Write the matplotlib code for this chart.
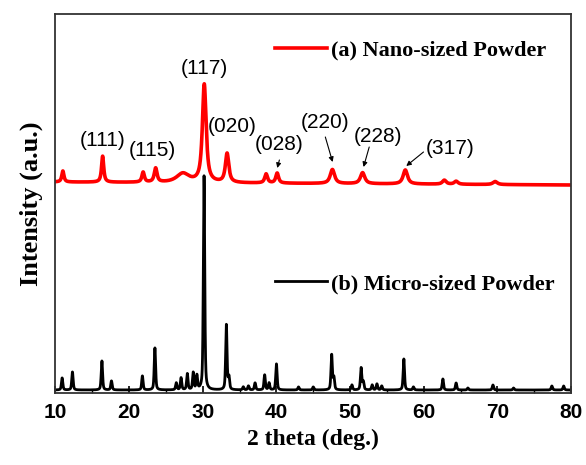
import numpy as np
import matplotlib
matplotlib.use("Agg")
import matplotlib.pyplot as plt

# ---------------- data ----------------
two_theta_range = [10, 80]

# Nano-sized powder: peak positions (deg), peak amplitudes (a.u.), FWHM (deg)
nano_pos   = [11.0, 16.4, 21.9, 23.6, 27.3, 30.2, 33.3, 38.6, 40.1, 47.6, 51.7, 57.5, 62.8, 64.4, 69.7]
nano_amp   = [11,   26,   10,   14,   9,    98,   29,   9,    10,   14,   11,   14,   4,    3,    3]
nano_fwhm  = [0.35, 0.35, 0.4,  0.45, 2.0,  0.6,  0.55, 0.45, 0.45, 0.7,  0.7,  0.7,  0.6,  0.6,  0.7]
nano_background = [211, 208]   # intensity at 10 deg and 80 deg

# Micro-sized powder
micro_pos  = [10.9, 12.3, 16.3, 17.6, 21.8, 23.5, 26.4, 27.05, 27.9, 28.7, 29.2, 30.17, 33.2, 33.55,
              35.5, 36.2, 37.1, 38.4, 39.0, 40.0, 43.0, 45.0, 47.5, 47.8, 50.25, 51.5, 51.8, 53.0,
              53.65, 54.3, 57.3, 58.6, 62.6, 64.4, 66.0, 69.4, 72.2, 77.4, 79.0]
micro_amp  = [12,   18,   29,   9,    14,   42,   7,    12,    16,   17,   14,   214,   65,   12,
              3,    4,    7,    15,   7,    26,   3,    3,    35,   12,   5,     22,   8,    5,
              6,    4,    31,   3,    11,   7,    2,    5,    2,    4,    4]
micro_fwhm = 0.22
micro_background = 3

peak_labels = ["(111)", "(115)", "(117)", "(020)", "(028)", "(220)", "(228)", "(317)"]
series_names = ["(a) Nano-sized Powder", "(b) Micro-sized Powder"]


def pseudo_voigt(x, pos, amp, fwhm, eta):
    g = np.exp(-4 * np.log(2) * ((x - pos) / fwhm) ** 2)
    l = 1.0 / (1 + 4 * ((x - pos) / fwhm) ** 2)
    return amp * (eta * l + (1 - eta) * g)


x = np.linspace(two_theta_range[0], two_theta_range[1], 7001)
frac = (x - two_theta_range[0]) / (two_theta_range[1] - two_theta_range[0])
y_nano = nano_background[0] + (nano_background[1] - nano_background[0]) * frac
for p, a, w in zip(nano_pos, nano_amp, nano_fwhm):
    y_nano = y_nano + pseudo_voigt(x, p, a, w, 0.85)
y_micro = np.full_like(x, micro_background, dtype=float)
for p, a in zip(micro_pos, micro_amp):
    y_micro = y_micro + pseudo_voigt(x, p, a, micro_fwhm, 0.5)

# ---------------- figure ----------------
fig = plt.figure(figsize=(5.86, 4.65), dpi=100)
ax = fig.add_axes([55.5 / 586, 72 / 465, 515.5 / 586, 379 / 465])

ln_nano, = ax.plot(x, y_nano, color="#ff0000", lw=2.6, solid_joinstyle="round")
ln_micro, = ax.plot(x, y_micro, color="black", lw=2.0, solid_joinstyle="round")

ax.set_xlim(*two_theta_range)
ax.set_ylim(0, 379)
ax.set_yticks([])
ax.set_xticks(np.arange(10, 81, 10))
ax.set_xticks(np.arange(10, 81, 5), minor=True)
ax.tick_params(axis="x", which="major", direction="in", length=5, width=1.2, pad=7)
ax.tick_params(axis="x", which="minor", direction="in", length=3, width=1.0)
for lab in ax.get_xticklabels():
    lab.set_fontfamily("Liberation Sans")
    lab.set_fontweight("bold")
    lab.set_fontsize(15)
for s in ax.spines.values():
    s.set_linewidth(1.3)
    s.set_color("#333333")

ax.set_xlabel("2 theta (deg.)", family="Liberation Serif", weight="bold", fontsize=17, labelpad=5)
ax.set_ylabel("Intensity (a.u.)", family="Liberation Serif", weight="bold", fontsize=19, labelpad=9)

# peak annotations: (text position, arrow tail, arrow head) ; None = no arrow
ann_layout = [
    ((16.34, 253), None),
    ((23.12, 243), None),
    ((30.22, 325), None),
    ((33.98, 266), None),
    ((40.3, 248), ((40.4, 233), (40.12, 225))),
    ((46.64, 270), ((46.64, 256), (47.63, 231))),
    ((53.73, 256), ((52.6, 246), (51.83, 226))),
    ((63.6, 245), ((59.97, 241), (57.63, 227))),
]
for lab, (tpos, arr) in zip(peak_labels, ann_layout):
    ax.text(tpos[0], tpos[1], lab, ha="center", va="center",
            family="Liberation Sans", fontsize=15)
    if arr is not None:
        ax.annotate("", xy=arr[1], xytext=arr[0],
                    arrowprops=dict(arrowstyle="-|>", lw=0.8, color="black",
                                    mutation_scale=7, shrinkA=0, shrinkB=0))

# two separate legend entries
leg_kw = dict(frameon=False, handlelength=2.35, handletextpad=0.18, borderpad=0,
              borderaxespad=0, loc="center left",
              prop=dict(family="Liberation Serif", weight="bold", size=16))
leg1 = ax.legend([ln_nano], [series_names[0]], bbox_to_anchor=(0.4258, 0.905), **leg_kw)
ax.add_artist(leg1)
leg2 = ax.legend([ln_micro], [series_names[1]], bbox_to_anchor=(0.4258, 0.2876), **leg_kw)

fig.savefig("out.png", dpi=100)
